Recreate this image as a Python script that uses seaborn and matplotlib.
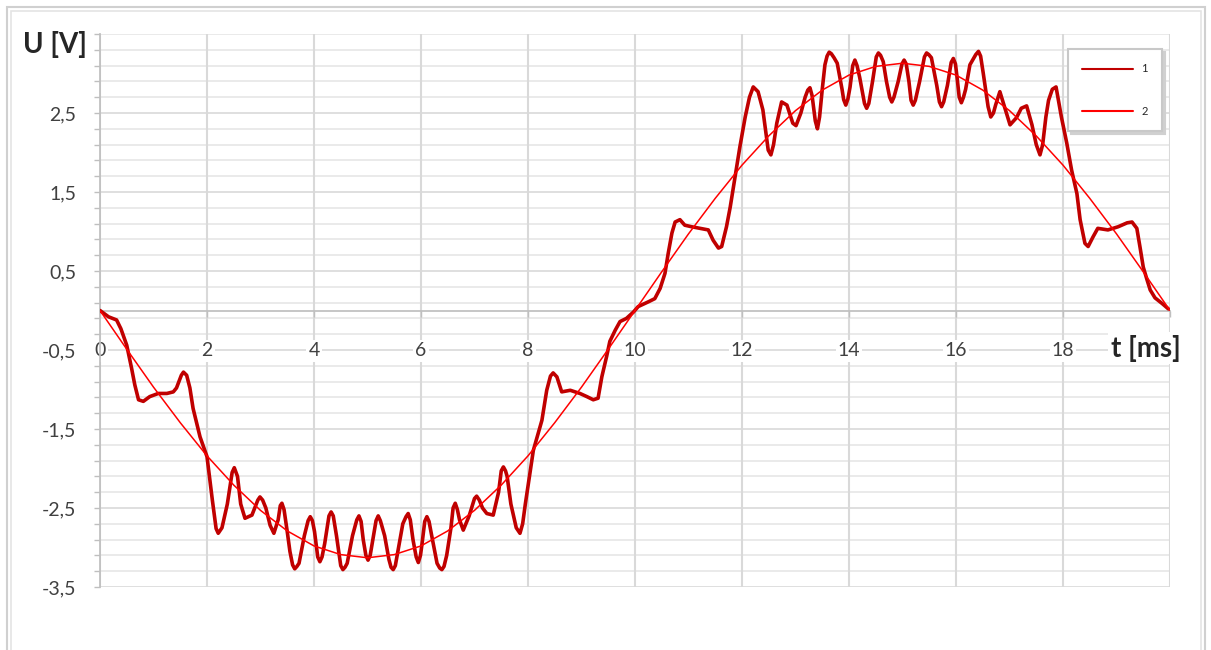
import matplotlib
matplotlib.use("Agg")
import matplotlib.pyplot as plt
import seaborn as sns
import pandas as pd
from matplotlib.patches import Rectangle
from matplotlib.ticker import FixedLocator, FuncFormatter

t_ms_1 = [0.00, 0.16, 0.31, 0.39, 0.50, 0.59, 0.65, 0.72,
          0.81, 0.93, 1.09, 1.25, 1.37, 1.43, 1.52, 1.56,
          1.62, 1.68, 1.74, 1.87, 2.00, 2.10, 2.17, 2.21,
          2.28, 2.38, 2.47, 2.51, 2.57, 2.63, 2.71, 2.84,
          2.95, 2.99, 3.04, 3.10, 3.18, 3.25, 3.33, 3.37,
          3.40, 3.44, 3.50, 3.55, 3.60, 3.64, 3.68, 3.72,
          3.82, 3.89, 3.93, 3.97, 4.01, 4.07, 4.11, 4.15,
          4.20, 4.28, 4.32, 4.36, 4.42, 4.50, 4.54, 4.58,
          4.62, 4.72, 4.80, 4.84, 4.88, 4.92, 4.97, 5.01,
          5.05, 5.10, 5.16, 5.20, 5.24, 5.32, 5.40, 5.44,
          5.48, 5.52, 5.58, 5.66, 5.72, 5.76, 5.80, 5.85,
          5.91, 5.95, 5.99, 6.02, 6.07, 6.11, 6.15, 6.20,
          6.30, 6.35, 6.39, 6.43, 6.48, 6.56, 6.60, 6.64,
          6.68, 6.72, 6.79, 6.90, 7.00, 7.04, 7.09, 7.15,
          7.23, 7.35, 7.45, 7.50, 7.54, 7.58, 7.61, 7.68,
          7.78, 7.85, 7.90, 7.95, 8.10, 8.26, 8.35, 8.42,
          8.47, 8.54, 8.63, 8.79, 8.97, 9.10, 9.22, 9.31,
          9.38, 9.47, 9.53, 9.63, 9.72, 9.84, 9.97, 10.06,
          10.25, 10.37, 10.47, 10.56, 10.62, 10.69, 10.75, 10.84,
          10.93, 11.06, 11.21, 11.37, 11.46, 11.56, 11.62, 11.71,
          11.78, 11.87, 11.96, 12.06, 12.14, 12.21, 12.30, 12.39,
          12.49, 12.54, 12.59, 12.65, 12.74, 12.84, 12.95, 13.01,
          13.10, 13.18, 13.23, 13.27, 13.31, 13.37, 13.41, 13.45,
          13.50, 13.55, 13.59, 13.63, 13.67, 13.72, 13.78, 13.87,
          13.90, 13.94, 13.98, 14.02, 14.07, 14.11, 14.15, 14.20,
          14.29, 14.33, 14.37, 14.44, 14.51, 14.55, 14.59, 14.64,
          14.70, 14.76, 14.80, 14.84, 14.92, 14.99, 15.03, 15.07,
          15.12, 15.16, 15.20, 15.24, 15.32, 15.41, 15.45, 15.49,
          15.54, 15.64, 15.69, 15.73, 15.77, 15.84, 15.91, 15.95,
          15.99, 16.02, 16.06, 16.10, 16.14, 16.18, 16.26, 16.37,
          16.42, 16.46, 16.51, 16.60, 16.65, 16.70, 16.74, 16.82,
          16.92, 17.01, 17.13, 17.22, 17.32, 17.42, 17.50, 17.57,
          17.62, 17.68, 17.73, 17.80, 17.87, 17.97, 18.07, 18.16,
          18.26, 18.32, 18.41, 18.47, 18.56, 18.65, 18.84, 19.03,
          19.20, 19.29, 19.38, 19.44, 19.50, 19.57, 19.63, 19.72,
          19.85, 19.97]
u_1 = [0.00, -0.08, -0.12, -0.23, -0.44, -0.73, -0.94, -1.13,
       -1.15, -1.09, -1.05, -1.05, -1.03, -0.98, -0.82, -0.78,
       -0.82, -0.98, -1.24, -1.60, -1.85, -2.40, -2.76, -2.82,
       -2.75, -2.45, -2.05, -1.99, -2.10, -2.45, -2.63, -2.59,
       -2.40, -2.36, -2.40, -2.50, -2.72, -2.82, -2.65, -2.47,
       -2.44, -2.52, -2.80, -3.05, -3.22, -3.27, -3.24, -3.20,
       -2.85, -2.66, -2.61, -2.66, -2.80, -3.12, -3.18, -3.12,
       -2.95, -2.60, -2.55, -2.60, -2.85, -3.23, -3.28, -3.25,
       -3.20, -2.85, -2.65, -2.60, -2.67, -2.90, -3.10, -3.16,
       -3.10, -2.90, -2.66, -2.60, -2.66, -2.85, -3.15, -3.25,
       -3.28, -3.23, -3.00, -2.70, -2.61, -2.57, -2.65, -2.90,
       -3.12, -3.19, -3.10, -2.95, -2.67, -2.61, -2.67, -2.85,
       -3.20, -3.26, -3.28, -3.24, -3.10, -2.75, -2.50, -2.44,
       -2.52, -2.65, -2.78, -2.60, -2.38, -2.35, -2.40, -2.50,
       -2.57, -2.59, -2.30, -2.03, -1.98, -2.03, -2.10, -2.45,
       -2.75, -2.82, -2.70, -2.45, -1.77, -1.39, -1.01, -0.83,
       -0.79, -0.84, -1.03, -1.01, -1.05, -1.09, -1.13, -1.11,
       -0.84, -0.58, -0.39, -0.25, -0.14, -0.10, -0.02, 0.05,
       0.11, 0.15, 0.28, 0.47, 0.72, 0.98, 1.12, 1.15,
       1.08, 1.06, 1.04, 1.02, 0.89, 0.79, 0.81, 1.06,
       1.31, 1.69, 2.07, 2.45, 2.70, 2.83, 2.77, 2.54,
       2.03, 1.97, 2.10, 2.37, 2.64, 2.60, 2.37, 2.34,
       2.50, 2.70, 2.79, 2.82, 2.72, 2.40, 2.30, 2.45,
       2.80, 3.11, 3.22, 3.27, 3.25, 3.20, 3.13, 2.80,
       2.67, 2.60, 2.68, 2.83, 3.10, 3.17, 3.10, 2.95,
       2.62, 2.56, 2.62, 2.90, 3.21, 3.26, 3.23, 3.15,
       2.90, 2.70, 2.64, 2.70, 2.90, 3.12, 3.17, 3.12,
       2.90, 2.66, 2.60, 2.66, 2.90, 3.21, 3.26, 3.24,
       3.20, 2.85, 2.64, 2.58, 2.64, 2.85, 3.14, 3.19,
       3.12, 2.95, 2.70, 2.63, 2.70, 2.80, 3.11, 3.24,
       3.28, 3.22, 3.00, 2.58, 2.45, 2.50, 2.60, 2.77,
       2.55, 2.35, 2.44, 2.56, 2.59, 2.35, 2.10, 1.97,
       2.10, 2.45, 2.66, 2.80, 2.83, 2.45, 2.12, 1.78,
       1.48, 1.15, 0.85, 0.81, 0.93, 1.04, 1.02, 1.06,
       1.11, 1.12, 1.04, 0.80, 0.55, 0.39, 0.26, 0.16,
       0.09, 0.02]

# curve 2: fundamental (every 0.5 ms)
t_ms_2 = [0.0, 0.5, 1.0, 1.5, 2.0, 2.5, 3.0, 3.5, 4.0, 4.5, 5.0, 5.5, 6.0, 6.5, 7.0, 7.5,
          8.0, 8.5, 9.0, 9.5, 10.0, 10.5, 11.0, 11.5, 12.0, 12.5, 13.0, 13.5, 14.0, 14.5,
          15.0, 15.5, 16.0, 16.5, 17.0, 17.5, 18.0, 18.5, 19.0, 19.5, 20.0]
u_2 = [0.00, -0.49, -0.97, -1.42, -1.84, -2.21, -2.53, -2.79, -2.98, -3.09, -3.13, -3.09,
       -2.98, -2.79, -2.53, -2.21, -1.84, -1.42, -0.97, -0.49, 0.00, 0.49, 0.97, 1.42,
       1.84, 2.21, 2.53, 2.79, 2.98, 3.09, 3.13, 3.09, 2.98, 2.79, 2.53, 2.21, 1.84,
       1.42, 0.97, 0.49, 0.00]

series_names = ["1", "2"]
x_ticks = [0, 2, 4, 6, 8, 10, 12, 14, 16, 18, 20]
x_tick_labels = ["0", "2", "4", "6", "8", "10", "12", "14", "16", "18", ""]
y_ticks = [-3.5, -2.5, -1.5, -0.5, 0.5, 1.5, 2.5]
y_minor = [-3.5 + 0.2 * k for k in range(36)]

W, H = 1211, 650


def px(x, y):
    """pixel position -> figure fraction"""
    return x / W, 1 - y / H


def main():
    sns.set_theme(style="white")
    plt.rcParams['font.family'] = ['Lato', 'DejaVu Sans']

    fig = plt.figure(figsize=(W / 100, H / 100), dpi=100)
    ax = fig.add_axes([100 / W, 1 - 587 / H, 1070 / W, 553 / H])

    df1 = pd.DataFrame({'t': t_ms_1, 'u': u_1})
    df2 = pd.DataFrame({'t': t_ms_2, 'u': u_2})
    sns.lineplot(data=df1, x='t', y='u', ax=ax, color='#C00000', linewidth=2.6,
                 label=series_names[0], sort=False, estimator=None, zorder=3,
                 solid_joinstyle='round', solid_capstyle='round')
    sns.lineplot(data=df2, x='t', y='u', ax=ax, color='#FF0000', linewidth=1.1,
                 label=series_names[1], sort=False, estimator=None, zorder=4)

    ax.set_xlim(0, 20)
    ax.set_ylim(-3.5, 3.5)
    ax.set_xlabel('')
    ax.set_ylabel('')

    ax.xaxis.set_major_locator(FixedLocator(x_ticks))
    ax.set_xticklabels(x_tick_labels)
    ax.yaxis.set_major_locator(FixedLocator(y_ticks))
    ax.yaxis.set_minor_locator(FixedLocator(y_minor))
    ax.yaxis.set_major_formatter(FuncFormatter(lambda v, _: f"{v:.1f}".replace('.', ',')))

    # Excel-like grid
    ax.grid(False)
    ax.yaxis.grid(True, which='minor', color='#E6E6E6', linewidth=1.2)
    ax.yaxis.grid(True, which='major', color='#D9D9D9', linewidth=1.2)
    ax.xaxis.grid(True, which='major', color='#D9D9D9', linewidth=1.5)
    ax.set_axisbelow(True)
    # x axis (and its white-backed labels) drawn after the horizontal grid
    ax.xaxis.set_zorder(0.7)

    for side in ['top', 'right']:
        ax.spines[side].set_visible(False)
    ax.spines['left'].set_color('#BFBFBF')
    ax.spines['bottom'].set_color('#BFBFBF')
    ax.spines['bottom'].set_position(('data', 0))

    ax.tick_params(axis='y', which='both', left=True, direction='out', length=4,
                   width=1, color='#BFBFBF')
    ax.tick_params(axis='y', which='major', labelsize=14, pad=13, labelcolor='#404040')
    ax.tick_params(axis='x', which='major', bottom=True, direction='out', length=4,
                   width=1, color='#BFBFBF', labelsize=14, pad=19, labelcolor='#404040')
    for lbl in ax.get_xticklabels():
        lbl.set_bbox(dict(facecolor='white', edgecolor='none', pad=1.5))

    leg = ax.legend(loc='upper right', bbox_to_anchor=px(1162, 49),
                    bbox_transform=fig.transFigure, borderaxespad=0, fontsize=8,
                    handlelength=4.6, handletextpad=0.7, labelspacing=2.8, borderpad=1.3,
                    frameon=True, fancybox=False, shadow={'color': '#D0D0D0', 'alpha': 1})
    leg.get_frame().set_edgecolor('#C8C8C8')
    leg.get_frame().set_linewidth(1.5)
    for line in leg.get_lines():
        line.set_linewidth(1.5)

    fig.text(*px(55, 45), 'U [V]', ha='center', va='center', fontsize=20,
             fontweight='bold', color='#262626')
    fig.text(*px(1146, 348), 't [ms]', ha='center', va='center', fontsize=20,
             fontweight='bold', color='#262626',
             bbox=dict(facecolor='white', edgecolor='none', pad=2))

    # outer chart frame
    fig.patches.append(Rectangle(px(7, 700), 1198 / W, 693 / H, transform=fig.transFigure,
                                 fill=False, edgecolor='#D0D0D0', linewidth=1.5))
    fig.patches.append(Rectangle(px(11, 700), 1190 / W, 689 / H, transform=fig.transFigure,
                                 fill=False, edgecolor='#E4E4E4', linewidth=1.2))

    fig.savefig('out.png', dpi=100)


if __name__ == "__main__":
    main()
